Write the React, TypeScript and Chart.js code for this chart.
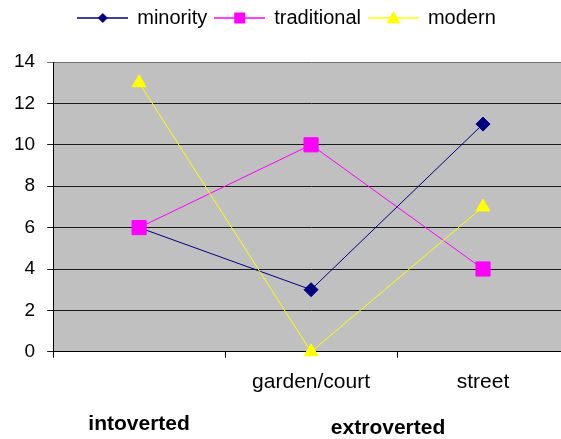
import React, { useEffect, useRef } from "react";
import { Chart, registerables } from "chart.js";

Chart.register(...registerables);

const categories = ["", "garden/court", "street"];
const groupLabels = ["intoverted", "extroverted"];
const minority = [6, 3, 11];
const traditional = [6, 10, 4];
const modern = [13, 0, 7];

const FONT = "'Liberation Sans', Arial, sans-serif";

function legendImage(color: string, style: string, r: number): HTMLCanvasElement {
  const c = document.createElement("canvas");
  c.width = 51;
  c.height = 18;
  const ctx = c.getContext("2d")!;
  ctx.strokeStyle = color;
  ctx.lineWidth = 1.5;
  ctx.beginPath();
  ctx.moveTo(0, 9);
  ctx.lineTo(51, 9);
  ctx.stroke();
  ctx.fillStyle = color;
  ctx.beginPath();
  const cx = 25.5, cy = 9;
  if (style === "diamond") {
    ctx.moveTo(cx, cy - r);
    ctx.lineTo(cx + r, cy);
    ctx.lineTo(cx, cy + r);
    ctx.lineTo(cx - r, cy);
  } else if (style === "square") {
    ctx.rect(cx - r, cy - r, 2 * r, 2 * r);
  } else {
    ctx.moveTo(cx, cy - r);
    ctx.lineTo(cx + r, cy + r * 0.75);
    ctx.lineTo(cx - r, cy + r * 0.75);
  }
  ctx.closePath();
  ctx.fill();
  return c;
}

const plotBg = {
  id: "plotBg",
  beforeDraw(chart: any) {
    const { ctx, chartArea } = chart;
    ctx.save();
    ctx.fillStyle = "#C0C0C0";
    ctx.fillRect(chartArea.left, chartArea.top, chartArea.right - chartArea.left, chartArea.bottom - chartArea.top);
    ctx.restore();
  },
};

const legendSpacer = {
  id: "legendSpacer",
  beforeLayout(chart: any) {
    const lg = chart.legend;
    if (lg && !lg._spaced) {
      const orig = lg.fit.bind(lg);
      lg.fit = function () {
        orig();
        this.height += 24;
      };
      lg._spaced = true;
    }
  },
};

const groupLabelPlugin = {
  id: "groupLabels",
  afterDraw(chart: any) {
    const { ctx, chartArea } = chart;
    const x = chart.scales.x;
    ctx.save();
    ctx.font = "bold 21px " + FONT;
    ctx.fillStyle = "#000";
    ctx.textAlign = "center";
    ctx.textBaseline = "middle";
    ctx.fillText(groupLabels[0], x.getPixelForValue(0), chartArea.bottom + 72);
    const mid = (x.getPixelForValue(1) + x.getPixelForValue(2)) / 2 - 9;
    ctx.fillText(groupLabels[1], mid, chartArea.bottom + 76);
    ctx.restore();
  },
};

export default function App() {
  const ref = useRef<HTMLCanvasElement>(null);
  useEffect(() => {
    const imgs = [
      legendImage("#000080", "diamond", 5),
      legendImage("#FF00FF", "square", 5.5),
      legendImage("#FFFF00", "triangle", 7),
    ];
    const chart = new Chart(ref.current!, {
      type: "line",
      data: {
        labels: categories,
        datasets: [
          {
            label: "minority",
            data: minority,
            order: 3,
            borderColor: "#000080",
            backgroundColor: "#000080",
            borderWidth: 1,
            pointStyle: "rectRot",
            pointRadius: 7,
            pointBorderWidth: 1,
            clip: false as any,
          },
          {
            label: "traditional",
            data: traditional,
            order: 2,
            borderColor: "#FF00FF",
            backgroundColor: "#FF00FF",
            borderWidth: 1,
            pointStyle: "rect",
            pointRadius: 10,
            pointBorderWidth: 1,
            clip: false as any,
          },
          {
            label: "modern",
            data: modern,
            order: 1,
            borderColor: "#FFFF00",
            backgroundColor: "#FFFF00",
            borderWidth: 1,
            pointStyle: "triangle",
            pointRadius: 8,
            pointBorderWidth: 1,
            clip: false as any,
          },
        ],
      },
      options: {
        responsive: false,
        animation: false,
        devicePixelRatio: 1,
        layout: { padding: { left: 2, right: 8, top: 0, bottom: 32 } },
        plugins: {
          legend: {
            position: "top",
            labels: {
              usePointStyle: true,
              pointStyleWidth: 49,
              boxHeight: 20,
              color: "#000",
              font: { family: FONT, size: 20 },
              padding: 8,
              generateLabels: (chart: any) =>
                chart.data.datasets.map((d: any, i: number) => ({
                  text: d.label,
                  pointStyle: imgs[i],
                  fillStyle: d.borderColor,
                  strokeStyle: d.borderColor,
                  lineWidth: 0,
                  datasetIndex: i,
                  hidden: false,
                  fontColor: "#000",
                })),
            },
          },
          tooltip: { enabled: false },
        },
        scales: {
          x: {
            type: "category",
            offset: true,
            grid: {
              offset: true,
              drawOnChartArea: false,
              drawTicks: true,
              tickLength: 6,
              color: "#000",
            },
            border: { color: "#000", width: 1 },
            ticks: {
              color: "#000",
              font: { family: FONT, size: 21 },
              padding: 12,
              maxRotation: 0,
              autoSkip: false,
            },
          },
          y: {
            min: 0,
            max: 14,
            grid: {
              color: (c: any) => (c.tick && c.tick.value === 14 ? "#6E6E6E" : "#1A1A1A"),
              tickLength: 6,
              drawTicks: true,
            },
            border: { color: "#000", width: 1 },
            ticks: {
              stepSize: 2,
              color: "#000",
              font: { family: FONT, size: 19 },
              padding: 12,
            },
          },
        },
      },
      plugins: [plotBg, legendSpacer, groupLabelPlugin],
    });
    return () => chart.destroy();
  }, []);
  return (
    <div style={{ position: "fixed", left: 0, top: 0, width: 561, height: 439, overflow: "hidden", background: "#fff" }}>
      <canvas ref={ref} width={580} height={439} style={{ display: "block" }} />
    </div>
  );
}
